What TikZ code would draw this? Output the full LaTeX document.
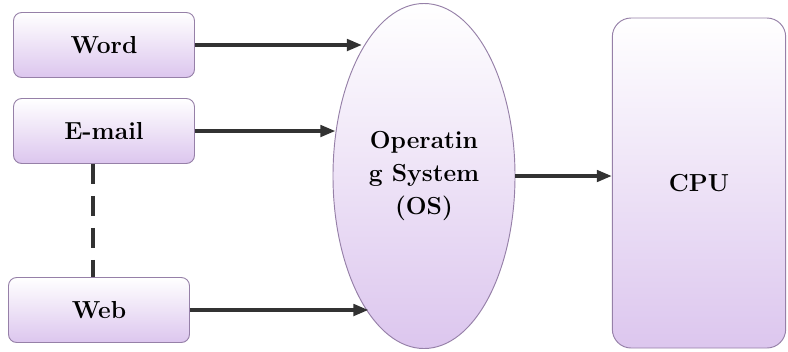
\documentclass[tikz,border=0pt]{standalone}
\usetikzlibrary{arrows.meta,shapes.geometric}
\definecolor{boxedge}{RGB}{150,128,168}
\definecolor{boxlilac}{RGB}{220,198,238}
\definecolor{arrowgrey}{RGB}{50,50,50}

\begin{document}
\begin{tikzpicture}[
  x=0.03cm, y=-0.03cm,
  app/.style={rectangle, rounded corners=7pt, draw=boxedge, thick,
    top color=white, bottom color=boxlilac,
    minimum width=5.43cm, minimum height=1.95cm,
    font=\bfseries\fontsize{21}{24}\selectfont},
  osnode/.style={ellipse, draw=boxedge, thick, inner sep=0pt,
    top color=white, bottom color=boxlilac, align=center,
    minimum width=5.46cm, minimum height=10.35cm,
    font=\bfseries\fontsize{21}{28}\selectfont},
  cpunode/.style={rectangle, rounded corners=16pt, draw=boxedge, thick,
    top color=white, bottom color=boxlilac,
    minimum width=5.2cm, minimum height=9.9cm,
    font=\bfseries\fontsize{21}{24}\selectfont},
  arrow/.style={-{Triangle[length=4.5mm, width=3.4mm]}, line width=3pt, draw=arrowgrey},
  link/.style={line width=3.6pt, draw=arrowgrey, dash pattern=on 0.6cm off 0.36cm}
]
\useasboundingbox (0,0) rectangle (788,351);

\node[app] (word) at (104,45) {Word};
\node[app] (email) at (104,131) {E-mail};
\node[app] (web) at (99,310) {Web};
\node[osnode] (os) at (424,176) {Operatin\\g System\\(OS)};
\node[cpunode] (cpu) at (699,183) {CPU};

\draw[arrow] (word.east) -- (os.116 |- word.east);
\draw[arrow] (email.east) -- (os.154 |- email.east);
\draw[arrow] (web.east) -- (os.248 |- web.east);
\draw[arrow] (os.east) -- (cpu.west |- os.east);
\draw[link] (email.south -| 93,0) -- (web.north -| 93,0);
\end{tikzpicture}
\end{document}
